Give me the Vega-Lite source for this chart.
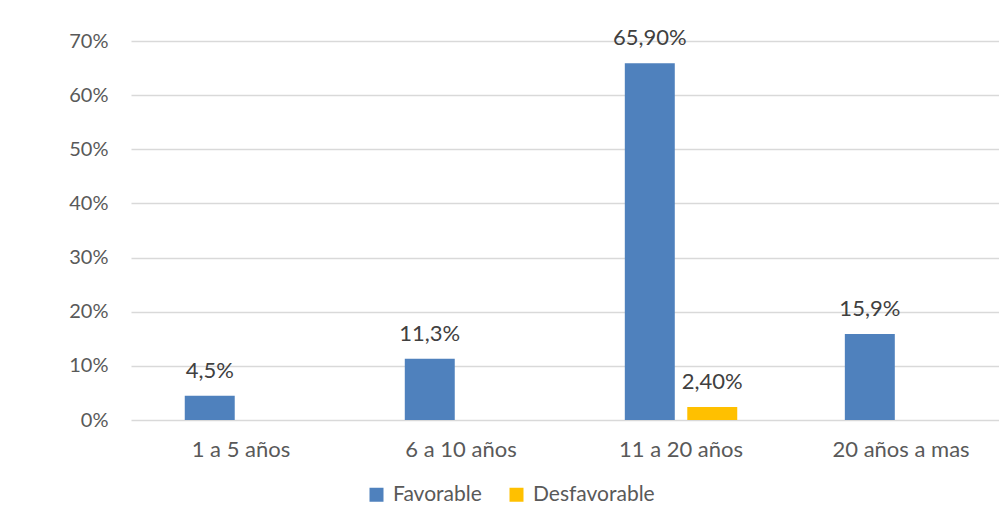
{
  "$schema": "https://vega.github.io/schema/vega-lite/v6.json",
  "width": 868,
  "height": 379,
  "autosize": {"type": "none"},
  "padding": {"left": 131, "top": 41, "right": 0, "bottom": 104},
  "background": "white",
  "config": {
    "view": {"stroke": null},
    "font": "Lato",
    "axis": {"labelFont": "Lato", "labelFontSize": 20, "labelColor": "#595959"},
    "legend": {"labelFont": "Lato", "labelFontSize": 21, "labelColor": "#595959", "padding": 0}
  },
  "data": {
    "values": [
      {"categoria": "1 a 5 años", "serie": "Favorable", "valor": 0.045, "etiqueta": "4,5%"},
      {"categoria": "6 a 10 años", "serie": "Favorable", "valor": 0.113, "etiqueta": "11,3%"},
      {"categoria": "11 a 20 años", "serie": "Favorable", "valor": 0.659, "etiqueta": "65,90%"},
      {"categoria": "11 a 20 años", "serie": "Desfavorable", "valor": 0.024, "etiqueta": "2,40%"},
      {"categoria": "20 años a mas", "serie": "Favorable", "valor": 0.159, "etiqueta": "15,9%"}
    ]
  },
  "encoding": {
    "x": {
      "field": "categoria",
      "type": "nominal",
      "sort": ["1 a 5 años", "6 a 10 años", "11 a 20 años", "20 años a mas"],
      "scale": {"paddingInner": 0.489, "paddingOuter": 0.217, "align": 0.563},
      "axis": {"title": null, "labelAngle": 0, "ticks": false, "domain": false, "labelPadding": 19, "labelFontSize": 22}
    },
    "xOffset": {
      "field": "serie",
      "type": "nominal",
      "sort": ["Favorable", "Desfavorable"],
      "scale": {"paddingInner": 0.2, "paddingOuter": 0}
    },
    "y": {
      "field": "valor",
      "type": "quantitative",
      "scale": {"domain": [0, 0.7], "nice": false},
      "axis": {
        "title": null,
        "format": ".0%",
        "values": [0, 0.1, 0.2, 0.3, 0.4, 0.5, 0.6, 0.7],
        "ticks": false,
        "domain": false,
        "labelPadding": 23,
        "gridColor": "#d9d9d9",
        "gridWidth": 1.3
      }
    }
  },
  "layer": [
    {
      "mark": {"type": "bar"},
      "encoding": {
        "color": {
          "field": "serie",
          "type": "nominal",
          "sort": ["Favorable", "Desfavorable"],
          "scale": {"domain": ["Favorable", "Desfavorable"], "range": ["#4F81BD", "#FFC000"]},
          "legend": {
            "title": null,
            "orient": "none",
            "direction": "horizontal",
            "legendX": 235,
            "legendY": 443,
            "symbolType": "square",
            "symbolSize": 196,
            "symbolStrokeWidth": 0,
            "symbolOpacity": 1,
            "labelOffset": 6,
            "columnPadding": 24
          }
        }
      }
    },
    {
      "mark": {"type": "text", "baseline": "alphabetic", "dy": -18, "fontSize": 22, "color": "#404040", "font": "Lato"},
      "encoding": {"text": {"field": "etiqueta"}}
    }
  ]
}
